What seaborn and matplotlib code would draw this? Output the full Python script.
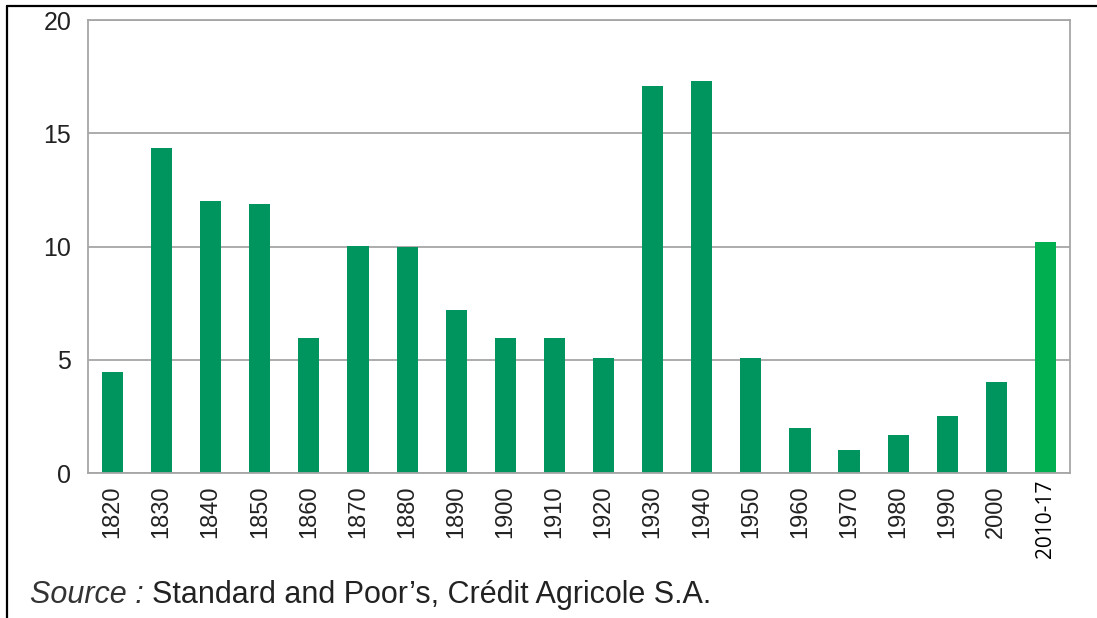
import matplotlib
matplotlib.use("Agg")
import matplotlib.pyplot as plt
import seaborn as sns
import pandas as pd
from matplotlib.lines import Line2D
from matplotlib.transforms import blended_transform_factory

categories = ["1820", "1830", "1840", "1850", "1860", "1870", "1880", "1890", "1900", "1910",
              "1920", "1930", "1940", "1950", "1960", "1970", "1980", "1990", "2000", "2010-17"]
values = [4.45, 14.35, 12.0, 11.88, 5.96, 10.02, 10.0, 7.2, 5.96, 5.96,
          5.08, 17.1, 17.3, 5.08, 1.99, 1.02, 1.68, 2.52, 4.02, 10.2]
yticks = [0, 5, 10, 15, 20]
source_label = "Source :"
source_text = "Standard and Poor\u2019s, Cr\u00e9dit Agricole S.A."

sns.set_style("white")
plt.rcParams["font.family"] = ["Liberation Sans", "DejaVu Sans"]

df = pd.DataFrame({"period": categories, "value": values})
colors = {c: "#00955F" for c in categories}
colors["2010-17"] = "#00B050"

fig = plt.figure(figsize=(10.97, 6.18), dpi=100)
ax = fig.add_axes([0.0802, 0.2346, 0.8952, 0.733])

sns.barplot(data=df, x="period", y="value", hue="period", palette=colors,
            legend=False, width=0.43, ax=ax, edgecolor="none", saturation=1)

grid_c = "#A6A6A6"
ax.set_ylim(0, 20)
ax.set_xlim(-0.5, len(categories) - 0.5)
ax.set_yticks(yticks)
ax.set_yticklabels([str(v) for v in yticks], fontsize=18, color="#222222")
ax.yaxis.grid(True, color=grid_c, linewidth=1.3)
ax.set_axisbelow(True)
ax.tick_params(axis="y", length=0, pad=12)

ax.set_xticks(range(len(categories)))
labels = categories[:-1] + [""]
ax.set_xticklabels(labels, rotation=90, fontsize=17, color="#222222")
ax.tick_params(axis="x", which="major", length=0, pad=9)
ax.set_xticks([i - 0.5 for i in range(len(categories) + 1)], minor=True)
ax.tick_params(axis="x", which="minor", length=7, width=1.3, color=grid_c)

trans = blended_transform_factory(ax.transData, ax.transAxes)
ax.text(len(categories) - 1, -7 / 453, categories[-1], transform=trans, rotation=90,
        ha="center", va="top", fontsize=15, color="black",
        family=["Open Sans", "DejaVu Sans"])

for s in ax.spines.values():
    s.set_color(grid_c)
    s.set_linewidth(1.3)
ax.set_xlabel("")
ax.set_ylabel("")

fig.text(0.027, 0.024, source_label, fontsize=22, style="italic", color="#333333")
fig.text(0.1385, 0.024, source_text, fontsize=22, color="#222222")

fig.add_artist(Line2D([7 / 1097, 7 / 1097], [0, 1 - 6 / 618], color="black", linewidth=1.6,
                      transform=fig.transFigure))
fig.add_artist(Line2D([7 / 1097, 1], [1 - 6 / 618, 1 - 6 / 618], color="black", linewidth=1.6,
                      transform=fig.transFigure))

fig.savefig("out.png", dpi=100)
